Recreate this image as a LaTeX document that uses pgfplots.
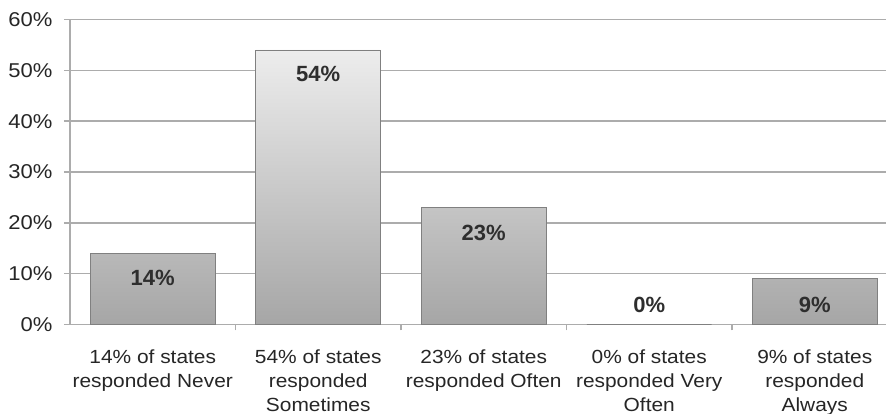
\documentclass[border=0pt]{standalone}
\usepackage{fontspec}
\setmainfont{Liberation Sans}
\newfontfamily\labfont[FakeStretch=1.1]{Liberation Sans}
\usepackage{pgfplots}
\pgfplotsset{compat=1.18}

\definecolor{gridgray}{HTML}{ACACAC}
\definecolor{bartop}{HTML}{EDEDED}
\definecolor{barbot}{HTML}{A6A6A6}
\definecolor{barline}{HTML}{808080}
\definecolor{labtext}{HTML}{2E2E2E}

\begin{document}
\begin{tikzpicture}
\begin{axis}[
    scale only axis,
    width=816pt, height=305pt,
    xmin=-0.5, xmax=4.4305,
    ymin=0, ymax=60,
    axis lines*=left,
    axis line style={gridgray, line width=1.6pt},
    ytick={0,10,...,60},
    yticklabel={\pgfmathprintnumber{\tick}\%},
    /pgf/number format/assume math mode=true,
    ymajorgrids,
    grid style={gridgray, line width=1.6pt},
    xtick={0,...,4},
    xticklabels={14\% of states\\responded Never,
                 54\% of states\\responded\\Sometimes,
                 23\% of states\\responded Often,
                 0\% of states\\responded Very\\Often,
                 9\% of states\\responded\\Always},
    minor xtick={0.5,1.5,2.5,3.5},
    major x tick style={draw=none},
    minor x tick style={gridgray, line width=1.6pt},
    y tick style={gridgray, line width=1.6pt},
    tick align=outside,
    major tick length=6pt, minor tick length=6pt,
    xticklabel style={font=\labfont\fontsize{19}{24}\selectfont, text=black!85,
        align=center, anchor=north, yshift=-16pt},
    yticklabel style={font=\labfont\fontsize{20}{24}\selectfont, text=black!85,
        xshift=-8pt},
]
% bars
\addplot[ybar, bar width=0.755, draw=barline, line width=0.8pt,
    top color=bartop, bottom color=barbot]
    coordinates {(0,14) (1,54) (2,23) (3,0) (4,9)};
% value labels
\addplot[only marks, mark=none, nodes near coords, point meta=explicit symbolic,
    every node near coord/.append style={anchor=center,
        font=\bfseries\fontsize{22}{24}\selectfont, text=labtext}]
    coordinates {(0,9.2) [14\%] (1,49.3) [54\%] (2,18.0) [23\%]
                 (3,3.8) [0\%] (4,3.9) [9\%]};
\end{axis}
\pgfresetboundingbox
\path[use as bounding box] (-70pt,-89.5pt) rectangle (816pt,324.5pt);
\end{tikzpicture}
\end{document}
